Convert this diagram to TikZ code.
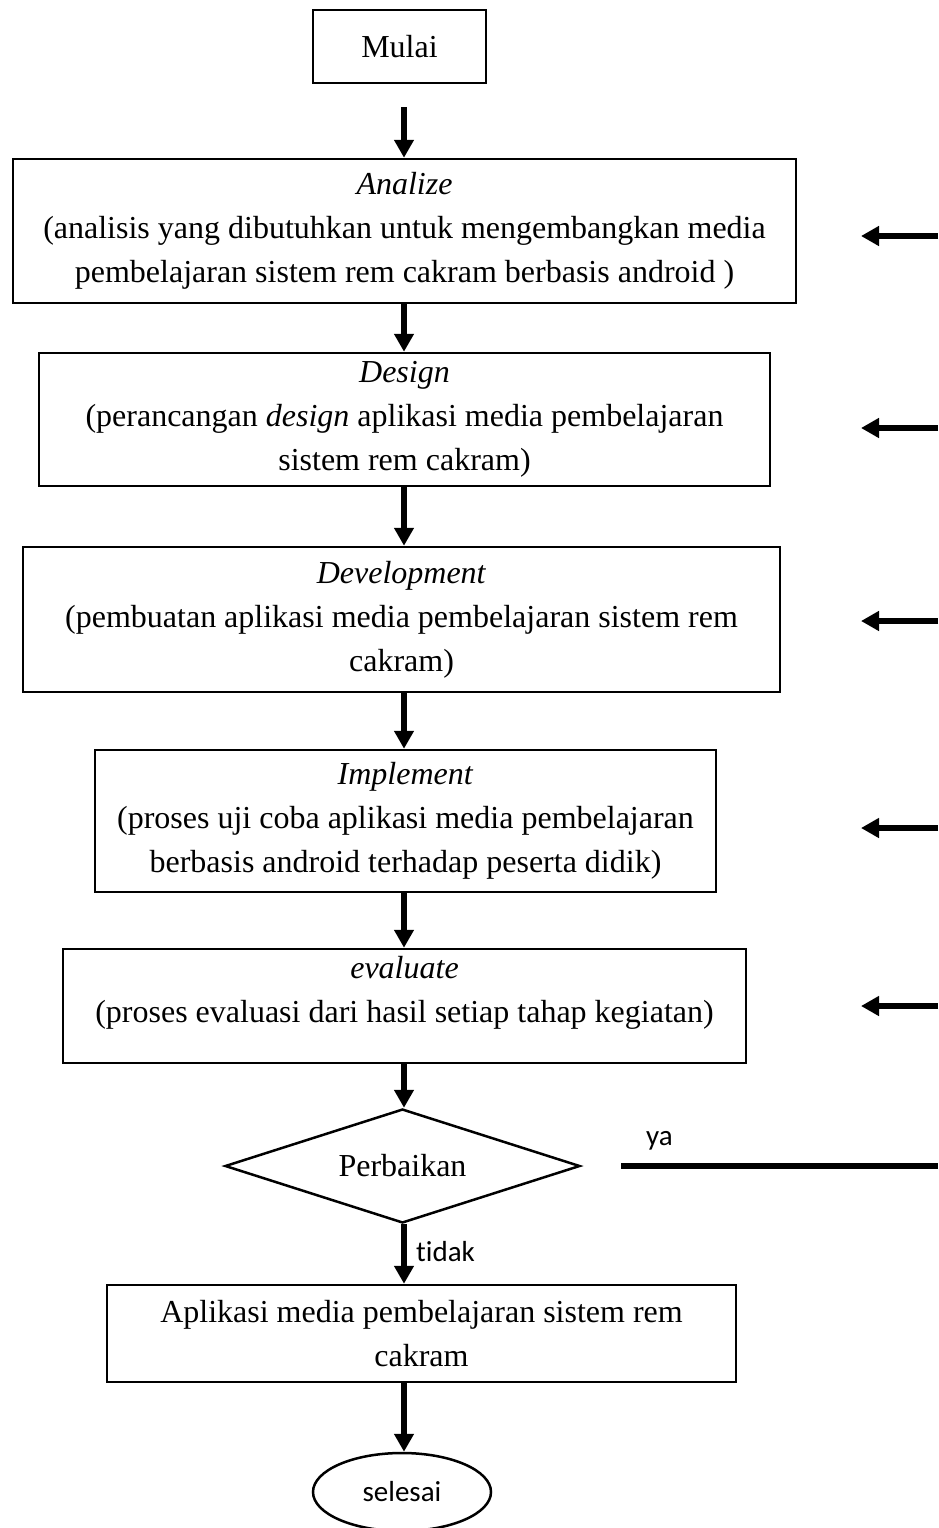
\documentclass[tikz,border=0pt]{standalone}
\usepackage{fontspec}
\setmainfont{Liberation Serif}
\newfontfamily\calib[Ligatures={NoCommon}]{Carlito}
\usetikzlibrary{shapes.geometric,arrows.meta}
\begin{document}
\begin{tikzpicture}[x=1pt,y=-1pt,
 box/.style={draw, line width=2.5pt, inner sep=0pt, align=center, font=\fontsize{32}{44}\selectfont},
 arr/.style={line width=6pt, -{Triangle[length=18pt,width=19pt]}},
 bar/.style={line width=6pt},
 lbl/.style={font=\calib\fontsize{29}{34}\selectfont, inner sep=0pt}]
\fill[white] (0,0) rectangle (938,1528);
\useasboundingbox (0,0) rectangle (938,1528);

\node[box, minimum width=173pt, minimum height=73pt] (mulai) at (399.5,46.5) {Mulai};
\node[box, minimum width=783pt, minimum height=144pt] (ana) at (404.5,231)
  {\textit{Analize}\\(analisis yang dibutuhkan untuk mengembangkan media\\pembelajaran sistem rem cakram berbasis android )};
\node[box, minimum width=731pt, minimum height=133pt] (des) at (404.5,419.5)
  {\textit{Design}\\(perancangan \textit{design} aplikasi media pembelajaran\\sistem rem cakram)};
\node[box, minimum width=757pt, minimum height=145pt] (dev) at (401.5,619.5)
  {\textit{Development}\\(pembuatan aplikasi media pembelajaran sistem rem\\cakram)};
\node[box, minimum width=621pt, minimum height=142pt] (imp) at (405.5,821)
  {\textit{Implement}\\(proses uji coba aplikasi media pembelajaran\\berbasis android terhadap peserta didik)};
\node[box, minimum width=683pt, minimum height=114pt] (eva) at (404.5,1006)
  {\textit{evaluate}\\(proses evaluasi dari hasil setiap tahap kegiatan)\\[-10pt]\mbox{}};
\node[draw, diamond, line width=2.5pt, minimum width=355pt, minimum height=114pt,
  inner sep=0pt, aspect=3.1, font=\fontsize{32}{44}\selectfont] (dia) at (402.5,1166) {Perbaikan};
\node[box, minimum width=629pt, minimum height=97pt] (apl) at (421.5,1333.5)
  {Aplikasi media pembelajaran sistem rem\\cakram};
\node[draw, ellipse, line width=2.5pt, minimum width=178pt, minimum height=78pt,
  inner sep=0pt, font=\calib\fontsize{29}{34}\selectfont] (sel) at (402,1492) {selesai};

\coordinate (col) at (404,0);
\draw[arr, shorten <=23pt] (mulai.south -| col) -- (ana.north -| col);
\draw[arr] (ana.south -| col) -- (des.north -| col);
\draw[arr] (des.south -| col) -- (dev.north -| col);
\draw[arr] (dev.south -| col) -- (imp.north -| col);
\draw[arr] (imp.south -| col) -- (eva.north -| col);
\draw[arr] (eva.south -| col) -- (dia.north -| col);
\draw[arr] (dia.south -| col) -- (apl.north -| col);
\draw[arr] (apl.south -| col) -- (sel.north -| col);

\coordinate (yaend) at (938,1166);
\draw[bar, shorten <=40pt] (dia.east) -- (yaend);
\node[lbl, anchor=west] (ya) at (646,1141) {ya};
\node[lbl, anchor=west] (tidak) at (416,1252) {tidak};

\foreach \i/\y in {1/236,2/428,3/621,4/828,5/1006}{
  \coordinate (s\i) at (938,\y);
  \coordinate (t\i) at (861,\y);
  \draw[arr] (s\i) -- (t\i);
}
\end{tikzpicture}
\end{document}
